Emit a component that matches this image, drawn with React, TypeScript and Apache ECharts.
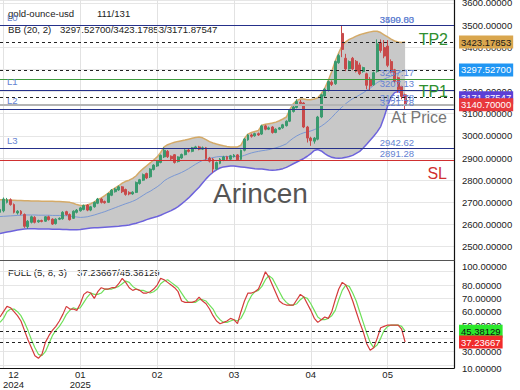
import React, { useEffect, useRef } from 'react';
import * as echarts from 'echarts';

const FONT = '"Liberation Sans", Arial, sans-serif';

// x slots (trading bars) and month ticks
const SLOT_COUNT = 131;
const categories = Array.from({ length: SLOT_COUNT }, (_, i) => String(i));
const monthTickIdx = [1, 23, 45, 67, 89, 111];
const monthLabels = ['12\n2024', '01\n2025', '02', '03', '04', '05'];

// OHLC
const open = [2655,2662,2700,2712,2690,2652,2660,2645,2590,2610,
  2632,2612,2618,2615,2635,2624,2604,2624,2626,2658,
  2645,2628,2655,2662,2668,2688,2665,2680,2696,2715,
  2704,2700,2732,2748,2756,2770,2758,2745,2738,2745,
  2785,2800,2830,2815,2848,2864,2880,2905,2930,2908,
  2915,2884,2900,2915,2936,2930,2945,2950,2940,2946,
  2900,2895,2850,2876,2890,2906,2895,2906,2914,2894,
  2935,2982,3004,3000,3010,3008,3045,3030,3040,3015,
  3030,3036,3046,3066,3110,3128,3152,3148,3040,2990,
  2976,2985,3085,3180,3205,3242,3235,3330,3462,3350,
  3302,3350,3336,3320,3290,3280,3255,3230,3290,3420,
  3398,3405,3335,3298,3262,3222,3185];
const close = [2668,2715,2712,2690,2655,2660,2648,2592,2615,2635,
  2610,2618,2614,2635,2622,2602,2624,2628,2655,2645,
  2622,2660,2665,2675,2686,2665,2680,2700,2715,2700,
  2698,2740,2755,2760,2770,2748,2736,2738,2746,2790,
  2802,2825,2810,2850,2868,2886,2912,2935,2906,2896,
  2880,2905,2916,2935,2930,2946,2950,2940,2946,2897,
  2886,2850,2880,2895,2905,2894,2910,2913,2892,2935,
  2985,3004,2998,3010,3004,3045,3030,3036,3015,3030,
  3036,3050,3066,3115,3130,3155,3146,3040,2990,2978,
  2990,3085,3185,3210,3245,3232,3335,3362,3390,3302,
  3335,3302,3292,3280,3308,3228,3225,3285,3415,3385,
  3360,3318,3290,3246,3210,3178,3140.7];
const low = [2648,2655,2695,2685,2650,2645,2642,2585,2580,2605,
  2605,2608,2610,2612,2618,2598,2600,2620,2622,2640,
  2618,2625,2650,2658,2664,2660,2660,2676,2692,2695,
  2694,2698,2728,2744,2752,2742,2730,2732,2734,2742,
  2780,2796,2805,2810,2844,2860,2876,2900,2900,2890,
  2875,2880,2896,2912,2925,2926,2940,2935,2936,2892,
  2880,2834,2846,2872,2886,2888,2890,2902,2888,2890,
  2930,2978,2992,2996,3000,3004,3025,3026,3010,3012,
  3026,3032,3042,3062,3105,3124,3140,3035,2970,2955,
  2965,2980,3080,3175,3200,3225,3230,3325,3355,3292,
  3298,3296,3286,3274,3285,3210,3205,3226,3285,3375,
  3350,3310,3282,3238,3195,3165,3120];
const high = [2675,2722,2720,2718,2695,2665,2665,2650,2620,2640,
  2638,2622,2622,2638,2640,2628,2628,2632,2660,2662,
  2650,2664,2670,2680,2690,2692,2684,2704,2720,2720,
  2708,2744,2760,2765,2776,2774,2762,2750,2750,2794,
  2806,2830,2834,2854,2872,2890,2916,2948,2936,2912,
  2918,2908,2920,2940,2942,2950,2955,2955,2952,2950,
  2905,2900,2884,2900,2910,2910,2914,2918,2918,2938,
  2990,3008,3010,3014,3015,3050,3050,3042,3044,3034,
  3040,3054,3070,3120,3136,3165,3162,3152,3045,2996,
  2995,3090,3190,3216,3250,3250,3340,3370,3500,3370,
  3340,3356,3342,3330,3312,3285,3265,3290,3435,3435,
  3432,3432,3345,3302,3268,3226,3190];

// Bollinger bands (20, 2)
const bbUpper = [2712,2712,2711,2710,2709,2708,2708,2707,2707,2706,
  2706,2706,2705,2705,2705,2705,2704,2704,2703,2702,
  2700,2696,2690,2686,2686,2688,2694,2702,2712,2720,
  2730,2742,2755,2765,2775,2787,2795,2800,2808,2820,
  2838,2852,2865,2878,2891,2905,2925,2950,2960,2966,
  2971,2975,2978,2981,2985,2989,2993,2995,2991,2983,
  2974,2968,2963,2959,2955,2952,2950,2950,2950,2958,
  2988,3008,3015,3020,3024,3048,3052,3055,3058,3062,
  3068,3076,3085,3118,3145,3160,3166,3166,3163,3163,
  3166,3172,3190,3215,3250,3290,3338,3375,3408,3424,
  3435,3442,3450,3456,3461,3465,3469,3472,3472,3466,
  3456,3446,3436,3428,3423,3421,3423.18];
const bbMiddle = [2636,2637,2638,2639,2640,2641,2642,2643,2643,2643,
  2643,2642,2642,2642,2642,2641,2641,2641,2640,2640,
  2638,2636,2634,2632,2633,2635,2639,2643,2648,2653,
  2658,2664,2670,2676,2682,2688,2694,2699,2705,2712,
  2722,2732,2742,2750,2760,2770,2782,2797,2807,2815,
  2822,2828,2835,2843,2852,2862,2872,2881,2889,2894,
  2898,2902,2905,2907,2907,2907,2907,2907,2906,2907,
  2912,2918,2923,2927,2930,2933,2935,2938,2942,2946,
  2951,2957,2964,2978,2990,3000,3008,3014,3018,3022,
  3028,3035,3044,3055,3068,3083,3100,3116,3131,3145,
  3157,3168,3176,3185,3194,3205,3215,3228,3240,3249,
  3256,3263,3270,3277,3283,3290,3297.53];
const bbLower = [2560,2563,2566,2569,2572,2575,2578,2580,2581,2581,
  2581,2580,2580,2580,2580,2579,2579,2579,2578,2578,
  2577,2577,2577,2578,2580,2582,2584,2585,2586,2587,
  2588,2589,2590,2591,2592,2594,2596,2598,2602,2606,
  2611,2616,2622,2627,2632,2636,2642,2649,2656,2663,
  2671,2681,2693,2706,2720,2736,2752,2768,2787,2806,
  2822,2836,2847,2855,2860,2862,2864,2864,2862,2860,
  2858,2856,2854,2852,2851,2850,2848,2846,2845,2846,
  2848,2852,2858,2866,2874,2882,2890,2898,2908,2920,
  2934,2938,2932,2920,2910,2903,2900,2899,2900,2903,
  2907,2912,2921,2930,2945,2962,2980,2998,3018,3042,
  3085,3135,3175,3195,3200,3192,3171.88];

// Full stochastic (5, 8, 3)
const stochK = [56,60,64,63,60,57,53,46,39,33,
  27,25,28,37,42,46,49,53,58,64,
  62,62,61,66,73,75,74,70,75,78,
  77,77,78,78,81,85,82,78,76,77,
  76,74,74,75,77,80,85,84,82,80,
  78,75,68,67,67,67,68,71,68,66,
  62,57,53,51,52,53,55,54,51,60,
  68,74,74,75,77,83,90,86,80,74,
  68,66,65,65,65,69,73,71,66,61,
  55,52,54,56,55,60,69,77,82,80,
  75,68,60,52,45,36,31,33,40,48,
  49,50,50,50,50,47,37.24];
const stochD = [52,55,60,62,62,60,57,52,46,39,
  33,28,27,30,36,42,46,49,53,58,
  61,63,62,63,67,71,74,73,73,74,
  77,77,77,78,79,81,83,82,79,77,
  76,76,75,74,75,77,81,83,84,82,
  80,78,74,70,67,67,67,69,69,68,
  65,62,57,54,52,52,53,54,53,55,
  60,67,72,75,76,79,84,87,85,80,
  75,70,67,65,65,66,69,71,70,66,
  61,56,54,54,55,57,61,69,76,80,
  79,74,68,60,52,44,37,33,35,40,
  46,49,50,50,50,49,45.38];

// Levels
const navyLevels = [3500, 3207.13, 3121.78, 2942.62];
const navyLevelNames = ['L0', 'L1', 'L2', 'L3'];
const bandLevels = [3423.17853, 3297.527, 3171.87547];
const bandTagBg = ['#d9a64e', '#2196f3', '#5b3fd6'];
const bandTagFg = ['#1a1a1a', '#ffffff', '#ffffff'];
const greenLevel = 3257.17;
const priceLevel = 3140.7;
const slLevel = 2891.28;
const stochLevels = [45.38129, 37.23667];
const stochTagBg = ['#2ce82c', '#f02b2b'];
const stochTagFg = ['#111111', '#ffffff'];

const NAVY = '#25308a';
const LVL_BLUE = '#6482d2';
const GREEN_TXT = '#2f8f2f';

export default function App() {
  const ref = useRef<HTMLDivElement>(null);

  useEffect(() => {
    const chart = echarts.init(ref.current as HTMLDivElement, null, { renderer: 'svg' });
    const candles = open.map((o, i) => [o, close[i], low[i], high[i]]);
    const bandWidth = bbUpper.map((u, i) => +(u - bbLower[i]).toFixed(2));
    const isMonth = (i: number) => monthTickIdx.indexOf(i) >= 0;
    const hidden = { color: 'rgba(0,0,0,0)', width: 1, type: 'solid' };

    const vLab = (text: string, dy = 1) => ({
      show: true, position: 'insideEndTop', distance: [40, dy], formatter: text,
      color: LVL_BLUE, fontSize: 9.5, fontFamily: FONT, opacity: 1,
    });
    const lLab = (text: string) => ({
      show: true, position: 'insideStartTop', distance: [7, 3], formatter: text,
      color: LVL_BLUE, fontSize: 9.5, fontFamily: FONT, opacity: 1,
    });
    const tag = (text: string, bg: string, fg: string) => ({
      show: true, position: 'end', distance: [5, 0], formatter: text,
      backgroundColor: bg, color: fg, padding: [2, 2, 1, 2], fontSize: 9.5, fontFamily: FONT,
    });
    const big = (text: string, color: string, pos: string, dist: number[]) => ({
      show: true, position: pos, distance: dist, formatter: text, color, fontSize: 16, fontFamily: FONT, opacity: 1,
    });

    const mainMarks: any[] = [
      ...navyLevels.map((v) => ({ yAxis: v, lineStyle: { color: NAVY, type: 'solid', width: 1.2 }, label: vLab(v.toFixed(2)) })),
      ...navyLevels.map((v, i) => ({ yAxis: v, lineStyle: hidden, label: lLab(navyLevelNames[i]) })),
      { yAxis: 3499.83, lineStyle: hidden, label: vLab('3499.83') },
      ...bandLevels.map((v, i) => ({ yAxis: v, lineStyle: { color: '#222', type: [3, 3], width: 1 }, label: tag(v.toFixed(5), bandTagBg[i], bandTagFg[i]) })),
      { yAxis: greenLevel, lineStyle: { color: '#3d9b3d', type: 'solid', width: 1.2 }, label: vLab(greenLevel.toFixed(2)) },
      { yAxis: priceLevel, lineStyle: { color: '#b4b4b4', type: 'solid', width: 2 }, label: tag(priceLevel.toFixed(5), '#e8383d', '#ffffff') },
      { yAxis: priceLevel, lineStyle: hidden, label: vLab('3151.78', 2) },
      { yAxis: slLevel, lineStyle: { color: '#d03030', type: 'solid', width: 1.2 }, label: vLab(slLevel.toFixed(2)) },
      { yAxis: bandLevels[0], lineStyle: hidden, label: big('TP2', GREEN_TXT, 'insideEndTop', [6, -5]) },
      { yAxis: navyLevels[1], lineStyle: hidden, label: big('TP1', GREEN_TXT, 'insideEndBottom', [6, -6]) },
      { yAxis: priceLevel, lineStyle: hidden, label: big('At Price', '#777777', 'insideEndBottom', [7, 5]) },
      { yAxis: slLevel, lineStyle: hidden, label: big('SL', '#d03030', 'insideEndBottom', [7, 6]) },
    ];
    const stochMarks: any[] = stochLevels.map((v, i) => ({
      yAxis: v, lineStyle: { color: '#222', type: [3, 3], width: 1 }, label: tag(v.toFixed(5), stochTagBg[i], stochTagFg[i]),
    }));

    const xBase = {
      type: 'category', data: categories, boundaryGap: false,
      axisTick: { show: false },
      splitLine: { show: true, interval: (i: number) => isMonth(i), lineStyle: { color: '#e2e2e2', width: 1 } },
    };

    const option: any = {
      animation: false,
      textStyle: { fontFamily: FONT },
      grid: [
        { left: 0, right: 66, top: 0, height: 260, outerBoundsMode: 'none', containLabel: false },
        { left: 0, right: 66, top: 260, height: 108, outerBoundsMode: 'none', containLabel: false },
      ],
      xAxis: [
        { ...xBase, gridIndex: 0, axisLine: { show: true, lineStyle: { color: '#555', width: 1 } }, axisLabel: { show: false } },
        {
          ...xBase, gridIndex: 1,
          axisLine: { show: true, lineStyle: { color: '#111', width: 1.2 } },
          axisLabel: {
            show: true, interval: (i: number) => isMonth(i), margin: 1, fontSize: 9.5, lineHeight: 10,
            color: '#222', fontFamily: FONT,
            formatter: (v: string) => {
              const k = monthTickIdx.indexOf(Number(v));
              if (k < 0) return '';
              if (k === 0) return '{f|12}\n{f|2024}';
              return monthLabels[k];
            },
            rich: { f: { padding: [0, 0, 0, 20], fontSize: 9.5, lineHeight: 10, color: '#222', fontFamily: FONT } },
          },
        },
      ],
      yAxis: [
        {
          type: 'value', gridIndex: 0, position: 'right', min: 2440, max: 3612.8,
          minInterval: 100, maxInterval: 100,
          axisLine: { show: true, lineStyle: { color: '#111', width: 1.2 } },
          axisTick: { show: false },
          axisLabel: {
            margin: 8, fontSize: 9.5, color: '#222', fontFamily: FONT,
            formatter: (v: number) => (Math.abs(v % 100) < 1e-6 ? v.toFixed(5) : ''),
          },
          splitLine: { show: true, lineStyle: { color: '#e6e6e6' } },
        },
        {
          type: 'value', gridIndex: 1, position: 'right', min: 17.75, max: 98.8,
          minInterval: 10, maxInterval: 10,
          axisLine: { show: true, lineStyle: { color: '#111', width: 1.2 } },
          axisTick: { show: false },
          axisLabel: {
            margin: 8, fontSize: 9.5, color: '#222', fontFamily: FONT, showMinLabel: true, showMaxLabel: true,
            formatter: (v: number) => {
              if (v > 98) return '{p|100.00000}';
              if (v < 18) return '10.00000';
              return v.toFixed(5);
            },
            rich: { p: { padding: [13, 0, 0, 0], fontSize: 9.5, color: '#222', fontFamily: FONT } },
          },
          splitLine: { show: true, lineStyle: { color: '#e6e6e6' } },
        },
      ],
      series: [
        { name: 'bbBase', type: 'line', xAxisIndex: 0, yAxisIndex: 0, data: bbLower, stack: 'bb', symbol: 'none', lineStyle: { width: 0, opacity: 0 }, silent: true, z: 1 },
        { name: 'bbFill', type: 'line', xAxisIndex: 0, yAxisIndex: 0, data: bandWidth, stack: 'bb', symbol: 'none', lineStyle: { width: 0, opacity: 0 }, areaStyle: { color: '#c8c8c8', opacity: 1 }, silent: true, z: 1 },
        { name: 'upper', type: 'line', xAxisIndex: 0, yAxisIndex: 0, data: bbUpper, symbol: 'none', lineStyle: { color: '#d4aa68', width: 1.5 }, silent: true, z: 2 },
        { name: 'lower', type: 'line', xAxisIndex: 0, yAxisIndex: 0, data: bbLower, symbol: 'none', lineStyle: { color: '#6d63dc', width: 1.5 }, silent: true, z: 2 },
        { name: 'middle', type: 'line', xAxisIndex: 0, yAxisIndex: 0, data: bbMiddle, symbol: 'none', lineStyle: { color: '#7a98d4', width: 1 }, silent: true, z: 2 },
        {
          name: 'gold', type: 'candlestick', xAxisIndex: 0, yAxisIndex: 0, data: candles, barWidth: 2.4, z: 3,
          itemStyle: { color: '#3a9a6e', color0: '#c84a4a', borderColor: '#3a9a6e', borderColor0: '#c84a4a', borderWidth: 1 },
          markLine: { symbol: ['none', 'none'], silent: true, animation: false, data: mainMarks },
        },
        {
          name: 'K', type: 'line', xAxisIndex: 1, yAxisIndex: 1, data: stochK, symbol: 'none', lineStyle: { color: '#d43b3b', width: 1.2 }, silent: true, z: 3,
          markLine: { symbol: ['none', 'none'], silent: true, animation: false, data: stochMarks },
        },
        { name: 'D', type: 'line', xAxisIndex: 1, yAxisIndex: 1, data: stochD, symbol: 'none', lineStyle: { color: '#6ee05a', width: 1.2 }, silent: true, z: 2 },
      ],
      graphic: [
        { type: 'text', x: 8, y: 13, style: { text: 'gold-ounce-usd', fill: '#222', font: `9.6px ${FONT}`, textVerticalAlign: 'middle' } },
        { type: 'text', x: 97, y: 13, style: { text: '111/131', fill: '#222', font: `9.6px ${FONT}`, textVerticalAlign: 'middle' } },
        { type: 'text', x: 8, y: 29, style: { text: 'BB (20, 2)', fill: '#222', font: `9.6px ${FONT}`, textVerticalAlign: 'middle' } },
        { type: 'text', x: 60, y: 29, style: { text: '3297.52700/3423.17853/3171.87547', fill: '#222', font: `9.6px ${FONT}`, textVerticalAlign: 'middle' } },
        { type: 'text', x: 8, y: 272, style: { text: 'FULL (5, 8, 3)', fill: '#222', font: `9.6px ${FONT}`, textVerticalAlign: 'middle' } },
        { type: 'text', x: 77, y: 272, style: { text: '37.23667/45.38129', fill: '#222', font: `9.6px ${FONT}`, textVerticalAlign: 'middle' } },
        { type: 'text', x: 213, y: 193, z: 10, style: { text: 'Arincen', fill: '#555', font: `28px ${FONT}`, textVerticalAlign: 'middle' } },
      ],
    };

    chart.setOption(option);
    return () => chart.dispose();
  }, []);

  return <div ref={ref} style={{ position: 'absolute', left: 0, top: 0, width: 520, height: 390 }} />;
}
